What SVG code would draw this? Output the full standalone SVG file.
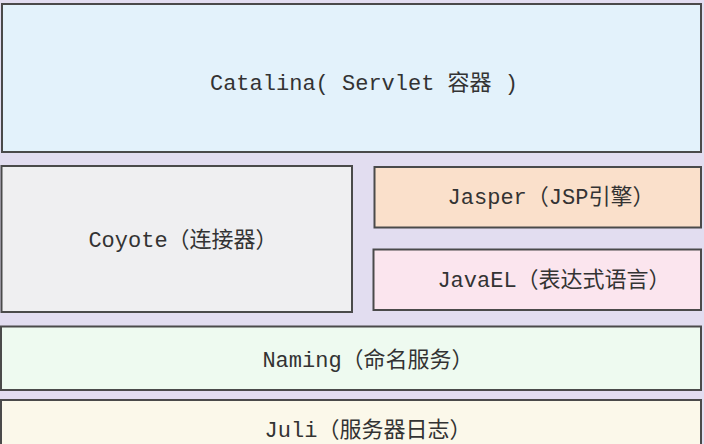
<svg xmlns="http://www.w3.org/2000/svg" width="704" height="444" viewBox="0 0 704 444">
<style>
.box{stroke:#4a4a4a;stroke-width:2}
.lbl{font-family:"Liberation Mono","Noto Sans CJK SC",monospace;font-size:22px;fill:#333;text-anchor:middle}
</style>
<rect x="0" y="0" width="704" height="444" fill="#e2ddf0"/>
<g id="catalina">
<rect class="box" x="2" y="4" width="699" height="148" fill="#e3f2fb"/>
<text class="lbl" x="364" y="90">Catalina( Servlet 容器 )</text>
</g>
<g id="coyote">
<rect class="box" x="1.5" y="166" width="350.5" height="146" fill="#efeff1"/>
<text class="lbl" x="183" y="247">Coyote（连接器）</text>
</g>
<g id="jasper">
<rect class="box" x="374.5" y="167" width="326.5" height="60.5" fill="#fae0cb"/>
<text class="lbl" x="551" y="204">Jasper（JSP引擎）</text>
</g>
<g id="javael">
<rect class="box" x="373.5" y="249.5" width="327.5" height="60.5" fill="#fbe5ee"/>
<text class="lbl" x="554" y="287">JavaEL（表达式语言）</text>
</g>
<g id="naming">
<rect class="box" x="1" y="326.5" width="700" height="63.5" fill="#eefaf0"/>
<text class="lbl" x="368" y="367">Naming（命名服务）</text>
</g>
<g id="juli">
<rect class="box" x="1" y="400" width="700" height="60" fill="#fbf8ea"/>
<text class="lbl" x="368" y="437">Juli（服务器日志）</text>
</g>
<g id="connectors"></g>
</svg>
